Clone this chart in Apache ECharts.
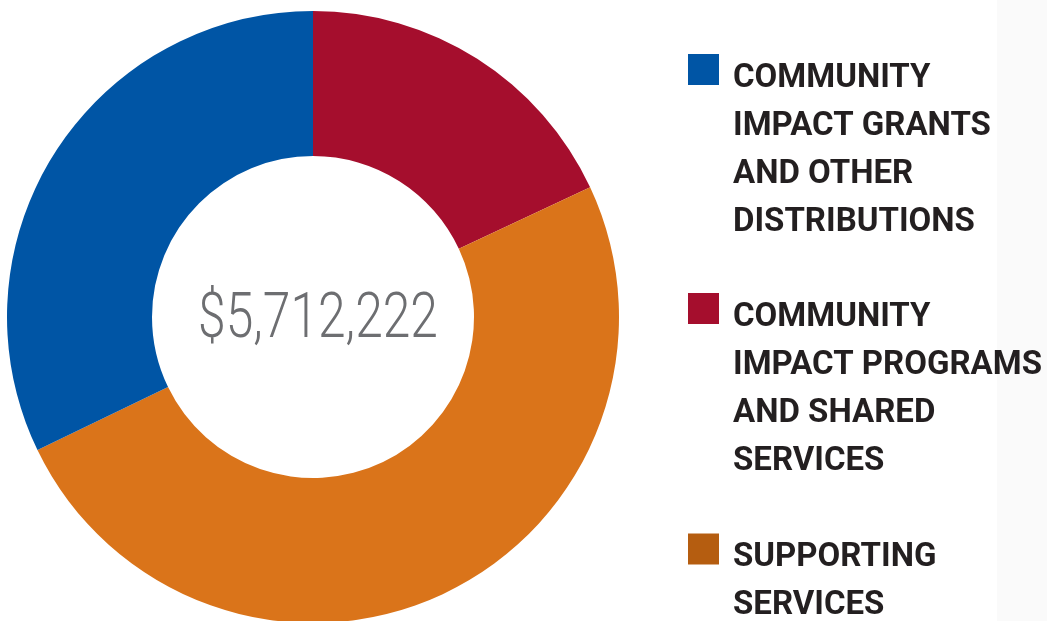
<!DOCTYPE html>
<html>
<head>
<meta charset="utf-8">
<script src="https://cdn.jsdelivr.net/npm/echarts@6/dist/echarts.min.js"></script>
<style>
html,body{margin:0;padding:0;background:#fff;}
#chart{width:1047px;height:621px;}
</style>
</head>
<body>
<div id="chart"></div>
<script>
// Data (clockwise order from 12 o'clock)
const categories = [
  'COMMUNITY IMPACT PROGRAMS AND SHARED SERVICES',
  'SUPPORTING SERVICES',
  'COMMUNITY IMPACT GRANTS AND OTHER DISTRIBUTIONS'
];
const values = [1030000, 2845000, 1837222];
const sliceColors = ['#A50E2D', '#DA741A', '#0055A5'];
const totalLabel = '$5,712,222';

// Legend (display order)
const legendNames = [
  'COMMUNITY IMPACT GRANTS AND OTHER DISTRIBUTIONS',
  'COMMUNITY IMPACT PROGRAMS AND SHARED SERVICES',
  'SUPPORTING SERVICES'
];
const legendLines = [
  ['COMMUNITY', 'IMPACT GRANTS', 'AND OTHER', 'DISTRIBUTIONS'],
  ['COMMUNITY', 'IMPACT PROGRAMS', 'AND SHARED', 'SERVICES'],
  ['SUPPORTING', 'SERVICES']
];
const legendIconColors = ['#0055A5', '#A50E2D', '#B55D10'];

const LH = 48;
const ICON = 31;
const SHIFT = 9; // caps sit slightly below icon centre
const legendTops = [-31.5, 207.5, 496];

const legends = legendNames.map((name, i) => {
  const n = legendLines[i].length;
  const S = (n - 1) * LH + 2 * SHIFT;
  return {
    data: [{ name: name, itemStyle: { color: legendIconColors[i] } }],
    orient: 'vertical',
    left: 688,
    top: legendTops[i],
    padding: 0,
    itemWidth: ICON,
    itemHeight: ICON,
    icon: 'rect',
    selectedMode: false,
    formatter: () => '{sp| }\n' + legendLines[i].map(l => '{t|' + l + '}').join('\n'),
    textStyle: {
      padding: [0, 0, 0, 9],
      rich: {
        sp: { fontSize: 10, lineHeight: S },
        t: {
          fontFamily: 'Roboto',
          fontWeight: 'bold',
          fontSize: 33,
          color: '#231F20',
          lineHeight: LH
        }
      }
    }
  };
});

const chart = echarts.init(document.getElementById('chart'));
chart.setOption({
  animation: false,
  backgroundColor: '#ffffff',
  legend: legends,
  graphic: [
    {
      type: 'rect', z: -10, silent: true,
      shape: { x: 997, y: 0, width: 50, height: 621 },
      style: { fill: '#fafafa' }
    },
    {
      type: 'text', z: 10, silent: true,
      x: 318, y: 321, scaleX: 0.79,
      style: {
        text: totalLabel,
        font: '300 63px Roboto',
        fill: '#6D6E71',
        align: 'center',
        verticalAlign: 'middle'
      }
    }
  ],
  series: [{
    type: 'pie',
    center: [313, 317],
    radius: [161, 306],
    startAngle: 90,
    clockwise: true,
    label: { show: false },
    labelLine: { show: false },
    emphasis: { disabled: true },
    itemStyle: { borderWidth: 0 },
    data: categories.map((c, i) => ({ name: c, value: values[i], itemStyle: { color: sliceColors[i] } }))
  }]
});
</script>
</body>
</html>
